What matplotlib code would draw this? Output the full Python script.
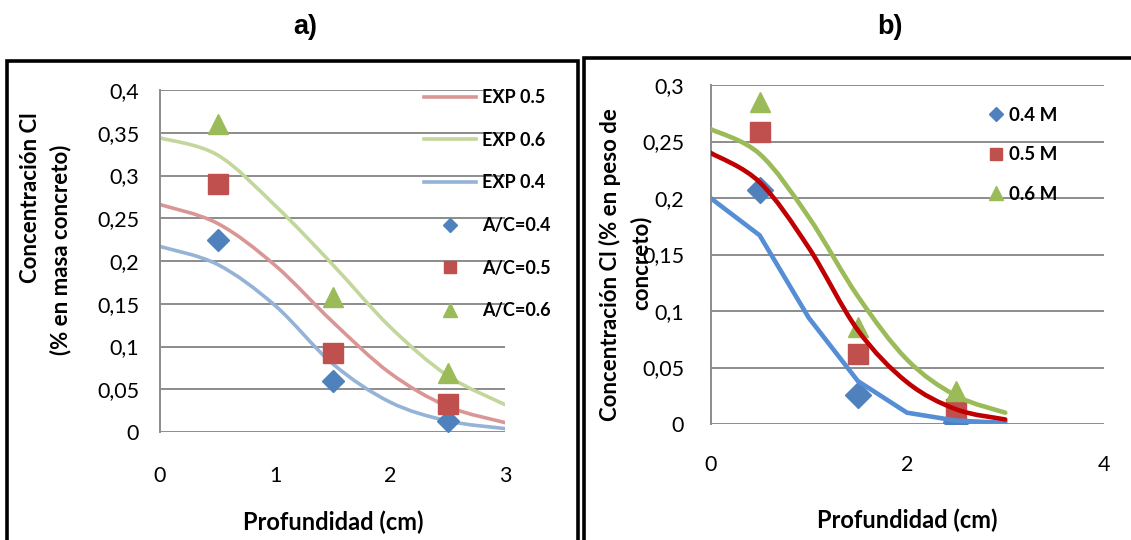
import matplotlib
matplotlib.use("Agg")
import matplotlib.pyplot as plt
import numpy as np
from matplotlib.lines import Line2D
from matplotlib.patches import PathPatch, Rectangle
from matplotlib.path import Path
from matplotlib.ticker import FuncFormatter

plt.rcParams["font.family"] = ["Lato", "DejaVu Sans"]

# depths (cm) of the fitted profiles and of the sampled slices
depth_fit = [0, 0.5, 1.0, 1.5, 2.0, 2.5, 3.0]
depth_obs = [0.5, 1.5, 2.5]

# a) chloride content, % by mass of concrete
a_obs_04 = [0.225, 0.060, 0.013]
a_obs_05 = [0.290, 0.092, 0.033]
a_obs_06 = [0.360, 0.158, 0.069]
a_exp_04 = [0.217, 0.196, 0.148, 0.080, 0.035, 0.013, 0.004]
a_exp_05 = [0.266, 0.244, 0.195, 0.129, 0.069, 0.030, 0.011]
a_exp_06 = [0.344, 0.324, 0.265, 0.196, 0.123, 0.066, 0.032]

# b) chloride content, % by weight of concrete
b_obs_04 = [0.207, 0.026, 0.002]
b_obs_05 = [0.258, 0.062, 0.013]
b_obs_06 = [0.285, 0.086, 0.029]
b_fit_04 = [0.200, 0.167, 0.094, 0.038, 0.010, 0.003, 0.001]
b_fit_05 = [0.240, 0.214, 0.156, 0.083, 0.037, 0.013, 0.004]
b_fit_06 = [0.261, 0.239, 0.183, 0.113, 0.057, 0.025, 0.010]

a_xticks = [0, 1, 2, 3]
a_yticks = [0, 0.05, 0.1, 0.15, 0.2, 0.25, 0.3, 0.35, 0.4]
b_xticks = [0, 2, 4]
b_yticks = [0, 0.05, 0.1, 0.15, 0.2, 0.25, 0.3]

BLUE, RED, GREEN = "#4F81BD", "#C0504D", "#9BBB59"
GRID = "#8C8C8C"
TICK_SIZE = 15.5
LABEL_SIZE = 17


def smooth_path(xs, ys):
    """Spreadsheet-style smoothed line through the points (Catmull-Rom bezier)."""
    pts = np.column_stack([xs, ys]).astype(float)
    n = len(pts)
    verts, codes = [pts[0]], [Path.MOVETO]
    for i in range(n - 1):
        p0, p1 = pts[max(i - 1, 0)], pts[i]
        p2, p3 = pts[i + 1], pts[min(i + 2, n - 1)]
        verts += [p1 + (p2 - p0) / 6, p2 - (p3 - p1) / 6, p2]
        codes += [Path.CURVE4] * 3
    return Path(verts, codes)


def draw_curve(ax, xs, ys, color, lw, zorder):
    ax.add_patch(PathPatch(smooth_path(xs, ys), fill=False, ec=color, lw=lw,
                           capstyle="round", joinstyle="round", zorder=zorder))


def style_axes(ax, xticks, yticks, xpad, ypad):
    ax.set_xlim(xticks[0], xticks[-1])
    ax.set_ylim(yticks[0], yticks[-1])
    ax.set_xticks(xticks)
    ax.set_yticks(yticks)
    ax.yaxis.set_major_formatter(FuncFormatter(lambda v, _: f"{v:g}".replace(".", ",")))
    ax.grid(axis="y", color=GRID, lw=1.4)
    ax.set_axisbelow(True)
    for side in ("top", "right", "bottom"):
        ax.spines[side].set_visible(False)
    ax.spines["left"].set_color(GRID)
    ax.spines["left"].set_linewidth(1.4)
    ax.tick_params(axis="x", length=0, labelsize=TICK_SIZE, pad=xpad)
    ax.tick_params(axis="y", length=0, labelsize=TICK_SIZE, pad=ypad)


fig = plt.figure(figsize=(11.31, 5.40), dpi=100)
W, H = 1131, 540


def fx(px):
    return px / W


def fy(py):
    return 1 - py / H


def vlabel(x, y, text):
    fig.text(fx(x), fy(y), text, rotation=90, ha="center", va="center",
             fontsize=LABEL_SIZE - 1, fontweight="bold")


# ---- panel a ----
ax_a = fig.add_axes([fx(160), fy(432), fx(505 - 160), (432 - 90) / H])
style_axes(ax_a, a_xticks, a_yticks, xpad=24.5, ypad=15)
draw_curve(ax_a, depth_fit, a_exp_05, "#DA9694", 2.6, 2)
draw_curve(ax_a, depth_fit, a_exp_06, "#C3D69B", 2.6, 2)
draw_curve(ax_a, depth_fit, a_exp_04, "#95B3D7", 2.6, 2)
ax_a.plot(depth_obs, a_obs_04, ls="none", marker="D", ms=11, color=BLUE, zorder=3)
ax_a.plot(depth_obs, a_obs_05, ls="none", marker="s", ms=14, color=RED, zorder=3)
ax_a.plot(depth_obs, a_obs_06, ls="none", marker="^", ms=15, color=GREEN, zorder=3)

leg_a = [
    Line2D([], [], color="#DA9694", lw=2.6),
    Line2D([], [], color="#C3D69B", lw=2.6),
    Line2D([], [], color="#95B3D7", lw=2.6),
    Line2D([], [], ls="none", marker="D", ms=7, color=BLUE),
    Line2D([], [], ls="none", marker="s", ms=9, color=RED),
    Line2D([], [], ls="none", marker="^", ms=10, color=GREEN),
]
fig.legend(leg_a, ["EXP 0.5", "EXP 0.6", "EXP 0.4", "A/C=0.4", "A/C=0.5", "A/C=0.6"],
           loc="upper left", bbox_to_anchor=(fx(424), fy(89)), frameon=False,
           prop={"weight": "bold", "size": 13}, handlelength=2.9,
           handletextpad=0.3, labelspacing=1.42, borderpad=0, borderaxespad=0,
           numpoints=1)

vlabel(31, 198, "Concentración Cl")
vlabel(61, 250, "(% en masa concreto)")
fig.text(fx(333), fy(522), "Profundidad (cm)", ha="center", va="center",
         fontsize=LABEL_SIZE, fontweight="bold")
fig.text(fx(305), fy(27), "a)", ha="center", va="center", fontsize=19.5,
         fontweight="bold", family="Liberation Sans")

# ---- panel b ----
ax_b = fig.add_axes([fx(710.5), fy(424), fx(1103.5 - 710.5), (424 - 85) / H])
style_axes(ax_b, b_xticks, b_yticks, xpad=22, ypad=19)
ax_b.plot(depth_obs, b_obs_04, ls="none", marker="D", ms=13, color=BLUE, zorder=2)
ax_b.plot(depth_obs, b_obs_05, ls="none", marker="s", ms=14, color=RED, zorder=2)
ax_b.plot(depth_obs, b_obs_06, ls="none", marker="^", ms=15, color=GREEN, zorder=2)
# the 0.4 M profile is a plain polyline, the other two are smoothed
ax_b.plot(depth_fit, b_fit_04, color="#558ED5", lw=3.3, solid_joinstyle="miter", zorder=3)
draw_curve(ax_b, depth_fit, b_fit_05, "#C00000", 3.3, 3)
draw_curve(ax_b, depth_fit, b_fit_06, GREEN, 3.3, 3)

leg_b = [
    Line2D([], [], ls="none", marker="D", ms=7, color=BLUE),
    Line2D([], [], ls="none", marker="s", ms=9, color=RED),
    Line2D([], [], ls="none", marker="^", ms=10, color=GREEN),
]
fig.legend(leg_b, ["0.4 M", "0.5 M", "0.6 M"], loc="upper left",
           bbox_to_anchor=(fx(988), fy(107)), frameon=False,
           prop={"weight": "bold", "size": 13.5}, handlelength=0.8,
           handletextpad=0.3, labelspacing=1.2, borderpad=0, borderaxespad=0,
           numpoints=1)

vlabel(610, 265, "Concentración Cl (% en peso de")
vlabel(641, 263, "concreto)")
fig.text(fx(907), fy(520), "Profundidad (cm)", ha="center", va="center",
         fontsize=LABEL_SIZE, fontweight="bold")
fig.text(fx(890), fy(27), "b)", ha="center", va="center", fontsize=19.5,
         fontweight="bold", family="Liberation Sans")

# panel frames
fig.patches.append(Rectangle((fx(6.5), -0.05), fx(578 - 6.5), fy(61) + 0.05,
                             transform=fig.transFigure, fill=False, ec="black", lw=2.6))
fig.patches.append(Rectangle((fx(583.5), -0.05), fx(1140 - 583.5), fy(58) + 0.05,
                             transform=fig.transFigure, fill=False, ec="black", lw=2.6))

fig.savefig("out.png", dpi=100)
